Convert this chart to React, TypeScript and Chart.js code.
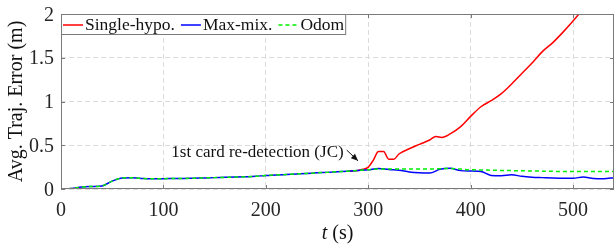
import React, { useEffect, useRef } from "react";
import { Chart, registerables } from "chart.js";

Chart.register(...registerables);

const baseTime = [0, 10, 20, 30, 40, 50, 60, 70, 80, 90, 100, 110, 120, 130, 140, 150, 160, 170, 180, 190, 200, 210, 220, 230, 240, 250, 260, 270, 280, 290, 300, 310, 320, 330, 340, 350, 360, 370, 380, 390, 400, 410, 420, 430, 440, 450, 460, 470, 480, 490, 500, 510, 520, 530, 540];

const maxMix = [0.0, 0.005, 0.022, 0.028, 0.035, 0.09, 0.125, 0.128, 0.12, 0.118, 0.118, 0.12, 0.121, 0.124, 0.127, 0.13, 0.133, 0.136, 0.14, 0.145, 0.155, 0.16, 0.166, 0.172, 0.178, 0.185, 0.19, 0.197, 0.204, 0.212, 0.22, 0.235, 0.222, 0.215, 0.195, 0.185, 0.183, 0.225, 0.237, 0.21, 0.205, 0.2, 0.155, 0.152, 0.162, 0.145, 0.135, 0.13, 0.125, 0.122, 0.122, 0.138, 0.12, 0.118, 0.13];

const odom = [0.0, 0.005, 0.022, 0.028, 0.035, 0.09, 0.125, 0.128, 0.12, 0.118, 0.118, 0.12, 0.121, 0.124, 0.127, 0.13, 0.133, 0.136, 0.14, 0.145, 0.155, 0.16, 0.166, 0.172, 0.178, 0.185, 0.19, 0.197, 0.204, 0.212, 0.22, 0.228, 0.228, 0.228, 0.228, 0.228, 0.228, 0.232, 0.235, 0.228, 0.22, 0.218, 0.215, 0.212, 0.21, 0.208, 0.206, 0.204, 0.202, 0.2, 0.2, 0.2, 0.2, 0.2, 0.2];

const singleTime = [280, 290, 295, 300, 305, 310, 315, 320, 325, 330, 340, 350, 360, 366, 372, 380, 390, 400, 410, 420, 430, 440, 450, 460, 470, 480, 490, 500, 510];
const singleHypo = [0.204, 0.212, 0.225, 0.25, 0.33, 0.43, 0.43, 0.34, 0.34, 0.4, 0.46, 0.51, 0.56, 0.6, 0.59, 0.63, 0.71, 0.83, 0.94, 1.01, 1.09, 1.2, 1.32, 1.44, 1.57, 1.67, 1.79, 1.92, 2.06];

const seriesNames = ["Single-hypo.", "Max-mix.", "Odom"];
const xTicks = [0, 100, 200, 300, 400, 500];
const yTicks = [0, 0.5, 1, 1.5, 2];

const yTitle = "Avg. Traj. Error (m)";
const xTitleItalic = "t";
const xTitleRest = " (s)";
const noteText = "1st card re-detection (JC)";
const noteTextAt = { x: 276, y: 0.42 };
const arrowFrom = { x: 279, y: 0.445 };
const arrowTo = { x: 290, y: 0.322 };

const SERIF = "Liberation Serif";
const FRAME = "#7a7a7a";
const GRID = "#dcdcdc";
const TEXT = "#262626";

Chart.defaults.font.family = SERIF;

const overlayPlugin = {
  id: "overlay",
  afterDraw(chart: any) {
    const { ctx, chartArea: a, scales } = chart;
    const xs = scales.x;
    const ys = scales.y;
    ctx.save();
    ctx.strokeStyle = FRAME;
    ctx.lineWidth = 1;
    ctx.setLineDash([]);
    ctx.strokeRect(a.left + 0.5, a.top + 0.5, a.right - a.left - 1, a.bottom - a.top - 1);
    const tl = 4;
    ctx.beginPath();
    xTicks.forEach((t) => {
      const px = Math.round(xs.getPixelForValue(t)) + 0.5;
      ctx.moveTo(px, a.bottom);
      ctx.lineTo(px, a.bottom - tl);
      ctx.moveTo(px, a.top);
      ctx.lineTo(px, a.top + tl);
    });
    yTicks.forEach((v) => {
      const py = Math.round(ys.getPixelForValue(v)) + 0.5;
      ctx.moveTo(a.left, py);
      ctx.lineTo(a.left + tl, py);
      ctx.moveTo(a.right, py);
      ctx.lineTo(a.right - tl, py);
    });
    ctx.stroke();

    // tick labels
    ctx.fillStyle = TEXT;
    ctx.font = `20px ${SERIF}`;
    ctx.textBaseline = "alphabetic";
    ctx.textAlign = "center";
    xTicks.forEach((t) => {
      ctx.fillText(String(t), xs.getPixelForValue(t), 216);
    });
    ctx.textAlign = "right";
    yTicks.forEach((v) => {
      ctx.fillText(String(v), a.left - 7, ys.getPixelForValue(v) + 6.5);
    });

    // annotation
    ctx.fillStyle = "#111";
    ctx.font = `17px ${SERIF}`;
    ctx.textAlign = "right";
    ctx.textBaseline = "middle";
    ctx.fillText(noteText, xs.getPixelForValue(noteTextAt.x), ys.getPixelForValue(noteTextAt.y));
    const x0 = xs.getPixelForValue(arrowFrom.x);
    const y0 = ys.getPixelForValue(arrowFrom.y);
    const x1 = xs.getPixelForValue(arrowTo.x);
    const y1 = ys.getPixelForValue(arrowTo.y);
    ctx.strokeStyle = "#111";
    ctx.lineWidth = 1;
    ctx.beginPath();
    ctx.moveTo(x0, y0);
    ctx.lineTo(x1, y1);
    ctx.stroke();
    const ang = Math.atan2(y1 - y0, x1 - x0);
    const hl = 7, hw = 3;
    ctx.beginPath();
    ctx.moveTo(x1, y1);
    ctx.lineTo(x1 - hl * Math.cos(ang) + hw * Math.sin(ang), y1 - hl * Math.sin(ang) - hw * Math.cos(ang));
    ctx.lineTo(x1 - hl * Math.cos(ang) - hw * Math.sin(ang), y1 - hl * Math.sin(ang) + hw * Math.cos(ang));
    ctx.closePath();
    ctx.fill();

    // legend
    ctx.font = `17.5px ${SERIF}`;
    ctx.textAlign = "left";
    ctx.textBaseline = "middle";
    const ds = chart.data.datasets;
    let x = a.left + 2;
    const items = ds.map((d: any, i: number) => ({ d, w: ctx.measureText(seriesNames[i]).width }));
    let total = 0;
    items.forEach((it: any, i: number) => {
      total += 22 + it.w + (i < items.length - 1 ? 6 : 2);
    });
    const bx = a.left, by = a.top, bw = total + 2, bh = 21;
    ctx.fillStyle = "#fff";
    ctx.fillRect(bx, by, bw, bh);
    ctx.strokeStyle = FRAME;
    ctx.strokeRect(bx + 0.5, by + 0.5, bw - 1, bh - 1);
    const cy = by + bh / 2 + 0.5;
    items.forEach((it: any, i: number) => {
      ctx.strokeStyle = it.d.borderColor;
      ctx.lineWidth = 1.5;
      ctx.setLineDash(it.d.borderDash || []);
      ctx.beginPath();
      ctx.moveTo(x, cy);
      ctx.lineTo(x + 20, cy);
      ctx.stroke();
      ctx.setLineDash([]);
      ctx.fillStyle = "#111";
      ctx.fillText(seriesNames[i], x + 22, cy);
      x += 22 + it.w + 6;
    });

    // axis titles
    ctx.fillStyle = "#111";
    ctx.font = `20px ${SERIF}`;
    ctx.textAlign = "center";
    ctx.textBaseline = "middle";
    ctx.save();
    ctx.translate(17, (a.top + a.bottom) / 2);
    ctx.rotate(-Math.PI / 2);
    ctx.fillText(yTitle, 0, 0);
    ctx.restore();

    ctx.textBaseline = "alphabetic";
    ctx.textAlign = "left";
    ctx.font = `italic 20px ${SERIF}`;
    const wi = ctx.measureText(xTitleItalic).width;
    ctx.font = `20px ${SERIF}`;
    const wr = ctx.measureText(xTitleRest).width;
    const sx = (a.left + a.right) / 2 - (wi + wr) / 2;
    ctx.font = `italic 20px ${SERIF}`;
    ctx.fillText(xTitleItalic, sx, 239);
    ctx.font = `20px ${SERIF}`;
    ctx.fillText(xTitleRest, sx + wi, 239);
    ctx.restore();
  },
};

export default function App() {
  const ref = useRef<HTMLCanvasElement>(null);
  useEffect(() => {
    document.body.style.margin = "0";
    const canvas = ref.current!;
    const toPts = (ts: number[], vs: number[]) => ts.map((t, i) => ({ x: t, y: vs[i] }));
    const common = { pointRadius: 0, borderWidth: 1.5, cubicInterpolationMode: "monotone", fill: false };
    const chart = new Chart(canvas, {
      type: "line",
      data: {
        datasets: [
          { ...common, label: seriesNames[0], data: toPts(singleTime, singleHypo), borderColor: "#ff0000", order: 3 },
          { ...common, label: seriesNames[1], data: toPts(baseTime, maxMix), borderColor: "#0000ff", order: 2 },
          { ...common, label: seriesNames[2], data: toPts(baseTime, odom), borderColor: "#00ee00", borderDash: [4, 3], order: 1 },
        ] as any,
      },
      options: {
        animation: false,
        responsive: false,
        maintainAspectRatio: false,
        devicePixelRatio: 1,
        layout: { padding: { top: 14, right: 1, left: 0, bottom: 0 } },
        plugins: { legend: { display: false }, tooltip: { enabled: false } },
        scales: {
          x: {
            type: "linear",
            min: 0,
            max: 540,
            afterBuildTicks: (s: any) => { s.ticks = xTicks.map((v) => ({ value: v })); },
            afterFit: (s: any) => { s.height = 56; },
            grid: { color: GRID, drawTicks: false, lineWidth: 1 },
            border: { display: false, dash: [5, 3] },
            ticks: { display: false },
          },
          y: {
            type: "linear",
            min: 0,
            max: 2,
            afterBuildTicks: (s: any) => { s.ticks = yTicks.map((v) => ({ value: v })); },
            afterFit: (s: any) => { s.width = 61; },
            grid: { color: GRID, drawTicks: false, lineWidth: 1 },
            border: { display: false, dash: [5, 3] },
            ticks: { display: false },
          },
        },
      } as any,
      plugins: [overlayPlugin],
    });
    return () => chart.destroy();
  }, []);
  return (
    <div style={{ width: 615, height: 245 }}>
      <canvas ref={ref} width={615} height={245} style={{ display: "block", width: 615, height: 245 }} />
    </div>
  );
}
